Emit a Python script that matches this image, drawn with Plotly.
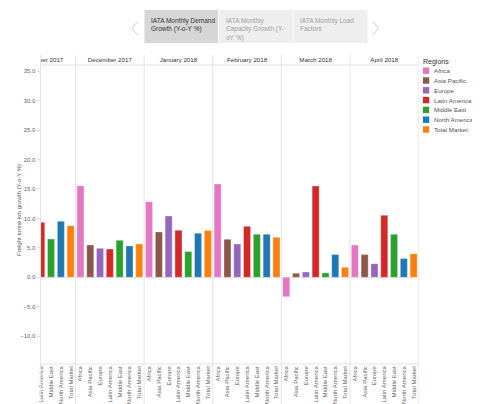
import plotly.graph_objects as go

# The page body has an 8px margin, so the figure is drawn 8px in from the top-left
OFF = 8
W, H = 480 - OFF, 404 - OFF

months = ["November 2017", "December 2017", "January 2018", "February 2018", "March 2018", "April 2018"]
regions = ["Africa", "Asia Pacific", "Europe", "Latin America", "Middle East", "North America", "Total Market"]
colors = ["#e377c2", "#8c564b", "#9467bd", "#d62728", "#2ca02c", "#1f77b4", "#ff7f0e"]

africa = [None, 15.56, 12.85, 15.85, -3.3, 5.49]
asia_pacific = [None, 5.49, 7.7, 6.45, 0.68, 3.85]
europe = [None, 4.92, 10.41, 5.66, 0.9, 2.32]
latin_america = [9.34, 4.8, 7.98, 8.66, 15.5, 10.53]
middle_east = [6.5, 6.28, 4.36, 7.3, 0.73, 7.3]
north_america = [9.5, 5.32, 7.47, 7.3, 3.85, 3.17]
total_market = [8.77, 5.66, 7.93, 6.8, 1.7, 4.0]
series = [africa, asia_pacific, europe, latin_america, middle_east, north_america, total_market]

tabs = ["IATA Monthly Demand<br>Growth (Y-o-Y %)", "IATA Monthly<br>Capacity Growth (Y-<br>oY %)", "IATA Monthly Load<br>Factors"]
y_title = "Freight tonne km growth (Y-o-Y %)"
y_ticks = [-10, -5, 0, 5, 10, 15, 20, 25, 30, 35]

FONT = "Liberation Sans, Arial, sans-serif"
NC = len(regions)


def px(x):
    return (x - OFF) / W


def py(y):
    return 1 - (y - OFF) / H


fig = go.Figure()

for r, (name, col, vals) in enumerate(zip(regions, colors, series)):
    fig.add_trace(go.Bar(
        x=[m * NC + r for m in range(len(months))],
        y=vals,
        name=name,
        width=0.72,
        marker=dict(color=col, line=dict(color="rgba(255,255,255,0.55)", width=0.6)),
        showlegend=False,
        hovertemplate=name + ": %{y:.1f}<extra></extra>",
    ))

# month headers in a clipped strip above the plot
fig.add_trace(go.Scatter(
    x=[m * NC + (NC - 1) / 2 for m in range(len(months))],
    y=[0.5] * len(months),
    text=months,
    mode="text",
    textfont=dict(size=6.2, color="#333333", family=FONT),
    cliponaxis=True,
    yaxis="y2",
    showlegend=False,
    hoverinfo="skip",
))

x_lo, x_hi = 2.93, 6 * NC - 0.5
y_lo, y_hi = -14.73, 36.06

tickvals = [m * NC + r for m in range(len(months)) for r in range(NC)]
ticktext = [regions[r] for m in range(len(months)) for r in range(NC)]

fig.update_layout(
    width=W, height=H,
    margin=dict(l=0, r=0, t=0, b=0),
    paper_bgcolor="white", plot_bgcolor="white",
    font=dict(family=FONT, color="#555555"),
    barmode="overlay",
    xaxis=dict(
        domain=[px(38.7), px(418.3)],
        range=[x_lo, x_hi],
        tickvals=tickvals, ticktext=ticktext,
        tickangle=-90,
        tickfont=dict(size=6, color="#666666"),
        showgrid=False, zeroline=False, showline=False,
        ticks="", anchor="y",
    ),
    yaxis=dict(
        domain=[py(364), py(65)],
        range=[y_lo, y_hi],
        tickvals=y_ticks,
        tickformat=".1f",
        tickfont=dict(size=6, color="#666666"),
        ticks="outside", ticklen=3, tickcolor="#dddddd",
        showgrid=False,
        zeroline=True, zerolinecolor="#e2e2e2", zerolinewidth=1,
        showline=False, anchor="x",
    ),
    yaxis2=dict(
        domain=[py(65), py(55)],
        range=[0, 1], visible=False, anchor="x", fixedrange=True,
    ),
)

shapes = []
line_col = "#e4e4e4"
# y-axis line and panel separators
shapes.append(dict(type="line", xref="paper", yref="paper", x0=px(38.7), x1=px(38.7),
                   y0=0, y1=py(55), line=dict(color=line_col, width=1)))
for m in range(1, len(months) + 1):
    xv = m * NC - 0.5
    shapes.append(dict(type="line", xref="x", yref="paper", x0=xv, x1=xv,
                       y0=0, y1=py(55), line=dict(color=line_col, width=1)))
# header bottom line and axis bottom line
for yy in [65, 364]:
    shapes.append(dict(type="line", xref="paper", yref="paper", x0=px(38.7), x1=px(418.3),
                       y0=py(yy), y1=py(yy), line=dict(color=line_col, width=1)))

# tabs
tab_x = [(143, 217), (218, 292), (293, 367)]
tab_fill = ["#d6d6d6", "#eeeeee", "#eeeeee"]
annotations = []
for i, ((a, b), t) in enumerate(zip(tab_x, tabs)):
    shapes.append(dict(type="rect", xref="paper", yref="paper", x0=px(a), x1=px(b),
                       y0=py(43), y1=py(10), fillcolor=tab_fill[i], line=dict(width=0), layer="below"))
    annotations.append(dict(xref="paper", yref="paper", x=px(a + 4.5), y=py(15), text=t,
                            showarrow=False, xanchor="left", yanchor="top", align="left",
                            font=dict(size=6.5, color="#333333" if i == 0 else "#a0a0a0", family=FONT)))
# arrows
shapes.append(dict(type="path", xref="paper", yref="paper",
                   path=f"M {px(136)} {py(21.7)} L {px(130.5)} {py(28.3)} L {px(136)} {py(35)}",
                   line=dict(color="#cccccc", width=1)))
shapes.append(dict(type="path", xref="paper", yref="paper",
                   path=f"M {px(372.5)} {py(21.7)} L {px(378)} {py(28.3)} L {px(372.5)} {py(35)}",
                   line=dict(color="#cccccc", width=1)))

# legend
annotations.append(dict(xref="paper", yref="paper", x=px(420.5), y=py(61.5), text="Regions",
                        showarrow=False, xanchor="left", yanchor="middle",
                        font=dict(size=7, color="#333333", family=FONT)))
for i, (name, col) in enumerate(zip(regions, colors)):
    yc = 70.7 + i * 9.8
    shapes.append(dict(type="rect", xref="paper", yref="paper", x0=px(422.7), x1=px(429),
                       y0=py(yc + 3.2), y1=py(yc - 3.2), fillcolor=col, line=dict(width=0)))
    annotations.append(dict(xref="paper", yref="paper", x=px(431.5), y=py(yc), text=name,
                            showarrow=False, xanchor="left", yanchor="middle",
                            font=dict(size=6.2, color="#555555", family=FONT)))

# y axis title
annotations.append(dict(xref="paper", yref="paper", x=px(17), y=py(210), text=y_title,
                        textangle=-90, showarrow=False, xanchor="center", yanchor="middle",
                        font=dict(size=6, color="#555555", family=FONT)))

fig.update_layout(shapes=shapes, annotations=annotations)
fig.write_html("out.html")
